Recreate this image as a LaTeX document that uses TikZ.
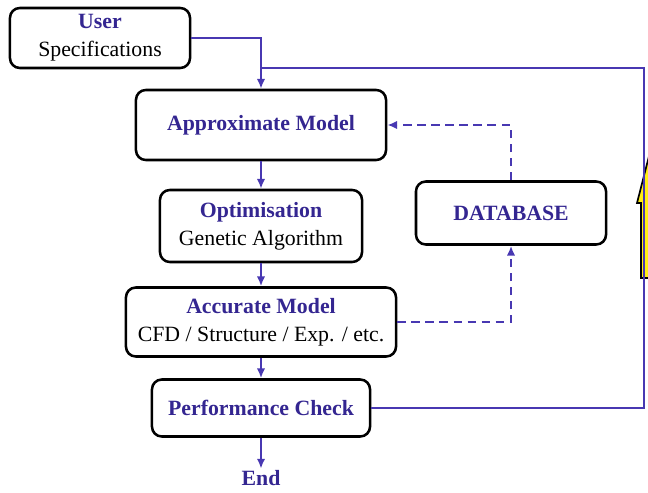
\documentclass[tikz,border=0pt]{standalone}
\usepackage{fontspec}
\setmainfont{Liberation Serif}
\usepackage{tikz}
\usetikzlibrary{arrows.meta,positioning}
\usepackage{xcolor}
\definecolor{flowblue}{RGB}{52,38,145}
\definecolor{linkblue}{RGB}{72,56,178}
\definecolor{hintyellow}{RGB}{255,238,20}
\newcommand{\hdtext}[1]{{\color{flowblue}\bfseries #1}}

\begin{document}
\begin{tikzpicture}[x=0.025cm, y=-0.025cm,
  blockbox/.style={draw, line width=1.8pt, rounded corners=7pt, fill=white,
    align=center, font=\fontsize{15.5}{20}\selectfont},
  flow/.style={draw=linkblue, line width=1.5pt, -{Latex[length=7pt,width=6pt]}},
  flowline/.style={draw=linkblue, line width=1.5pt},
  dflow/.style={flow, dash pattern=on 6pt off 4pt}]
  \useasboundingbox (0,0) rectangle (648,492);
  \clip (0,0) rectangle (648,492);

  % boxes
  \node[blockbox, minimum width=4.5cm, minimum height=1.5cm]
    (user) at (100,38) {\hdtext{User}\\Specifications};
  \node[blockbox, minimum width=6.25cm, minimum height=1.75cm]
    (approx) at (261,125) {\hdtext{Approximate Model}};
  \node[blockbox, minimum width=5.05cm, minimum height=1.8cm]
    (optim) at (261,226) {\hdtext{Optimisation}\\Genetic Algorithm};
  \node[blockbox, minimum width=4.75cm, minimum height=1.575cm]
    (dbase) at (511,213) {\hdtext{DATABASE}};
  \node[blockbox, minimum width=6.75cm, minimum height=1.725cm]
    (accur) at (261,322) {\hdtext{Accurate Model}\\CFD / Structure / Exp. / etc.};
  \node[blockbox, minimum width=5.45cm, minimum height=1.425cm]
    (perf) at (261,408) {\hdtext{Performance Check}};
  \node[font=\fontsize{15.5}{20}\selectfont, inner sep=1pt] (finish) at (261,478) {\hdtext{End}};

  % yellow hint arrow, cut by the right edge
  \filldraw[fill=hintyellow, draw=black, line width=1.2pt]
    (641,278) -- (641,203) -- (637,203) -- (648,160) -- (659,203)
    -- (655,203) -- (655,278) -- cycle;

  \coordinate (fbtop) at (644,68);

  % connectors
  \draw[flow] (user.east) -| (approx.north);
  \draw[flowline] (perf.east) -| (fbtop) -- (fbtop -| approx.north);
  \draw[flow] (approx) -- (optim);
  \draw[flow] (optim) -- (accur);
  \draw[flow] (accur) -- (perf);
  \draw[flow] (perf) -- (finish);
  \draw[dflow] (accur.east) -| (dbase.south);
  \draw[dflow] (dbase.north) |- (approx.east);
\end{tikzpicture}
\end{document}
